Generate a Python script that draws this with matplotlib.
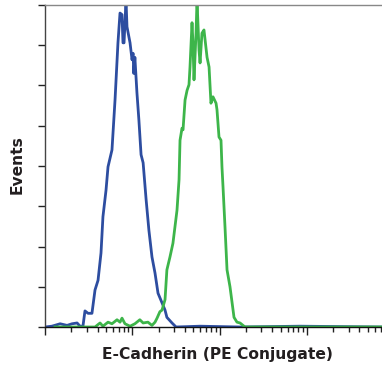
import numpy as np
from matplotlib import pyplot as plt
from matplotlib.ticker import LogLocator, NullFormatter, MultipleLocator

# isotype / negative control (blue)
blue_x = [1.0, 1.20, 1.49, 1.79, 2.04, 2.33, 2.52, 2.72, 2.87, 3.11, 3.45, 3.74,
          4.05, 4.38, 4.61, 5.00, 5.27, 5.85, 6.34, 6.85, 7.23, 7.62, 7.82, 8.04,
          8.47, 8.69, 9.42, 9.93, 10.2, 10.4, 10.7, 11.3, 11.9, 12.6, 13.3, 14.4,
          15.5, 16.8, 18.2, 19.7, 21.9, 23.7, 24.9, 28.5, 31.7, 59.6, 171, 832, 7244]
blue_y = [0, 1, 4, 2, 4, 5, 1, 1, 20, 17, 17, 46,
          58, 92, 137, 170, 199, 220, 282, 353, 390, 388, 353, 353,
          406, 373, 353, 332, 340, 315, 335, 291, 257, 214, 204, 158,
          120, 87, 67, 42, 30, 21, 12, 5, 0, 1, 0, 1, 0]

# E-Cadherin PE stained (green)
green_x = [1.30, 1.93, 3.74, 4.27, 4.61, 5.27, 5.85, 6.68, 7.23, 7.62, 8.24, 9.42,
           10.7, 12.2, 13.3, 15.1, 16.8, 18.2, 19.2, 20.7, 21.9, 23.7, 24.9, 27.0,
           29.2, 32.5, 34.3, 35.2, 37.1, 38.1, 40.2, 42.4, 44.6, 45.8, 48.3, 49.5,
           50.9, 53.7, 55.1, 58.1, 59.7, 62.8, 66.2, 71.8, 75.7, 79.6, 83.9, 91.0,
           93.3, 98.4, 103.7, 106.4, 109.4, 115.3, 121.6, 131.5, 146.2, 158.1,
           171.4, 195.4, 7244]
green_y = [0, 0, 0, 5, 1, 6, 4, 9, 6, 11, 4, 1,
           4, 9, 5, 6, 2, 6, 11, 19, 21, 34, 71, 87,
           104, 145, 183, 232, 247, 245, 282, 294, 301, 323, 378, 353,
           307, 365, 406, 344, 328, 365, 369, 335, 323, 278, 286, 278,
           270, 236, 232, 199, 174, 124, 71, 50, 12, 6,
           5, 0, 0]

fig = plt.figure(figsize=(3.82, 3.66), dpi=100)
ax = fig.add_axes([45 / 382, 1 - 327 / 366, 1 - 45 / 382, 322 / 366])

ax.plot(blue_x, blue_y, color='#2d4da0', lw=2.0)
ax.plot(green_x, green_y, color='#3db54a', lw=2.0)

ax.set_xscale('log')
ax.set_xlim(1, 7244)
ax.set_ylim(0, 400)

ax.xaxis.set_major_locator(LogLocator(base=10, numticks=10))
ax.xaxis.set_minor_locator(LogLocator(base=10, subs=np.arange(2, 10), numticks=20))
ax.xaxis.set_major_formatter(NullFormatter())
ax.xaxis.set_minor_formatter(NullFormatter())
ax.yaxis.set_major_locator(MultipleLocator(50))
ax.yaxis.set_major_formatter(NullFormatter())

ax.tick_params(axis='x', which='major', length=6, width=1, color='#222222')
ax.tick_params(axis='x', which='minor', length=3.5, width=1, color='#222222')
ax.tick_params(axis='y', which='major', length=5, width=1, color='#222222')

ax.spines['right'].set_visible(False)
ax.spines['top'].set_color('#888888')
ax.spines['top'].set_linewidth(1)
ax.spines['left'].set_color('#444444')
ax.spines['left'].set_linewidth(1)
ax.spines['bottom'].set_color('#111111')
ax.spines['bottom'].set_linewidth(1)

font = dict(family=['DejaVu Sans Condensed', 'DejaVu Sans'], fontweight='bold',
            color='#231f20', fontsize=11.2)
fig.text(217 / 382, 1 - 354 / 366, 'E-Cadherin (PE Conjugate)',
         ha='center', va='center', **font)
fig.text(17 / 382, 1 - 165 / 366, 'Events', rotation=90,
         ha='center', va='center', **font)

fig.savefig('out.png', dpi=100)
